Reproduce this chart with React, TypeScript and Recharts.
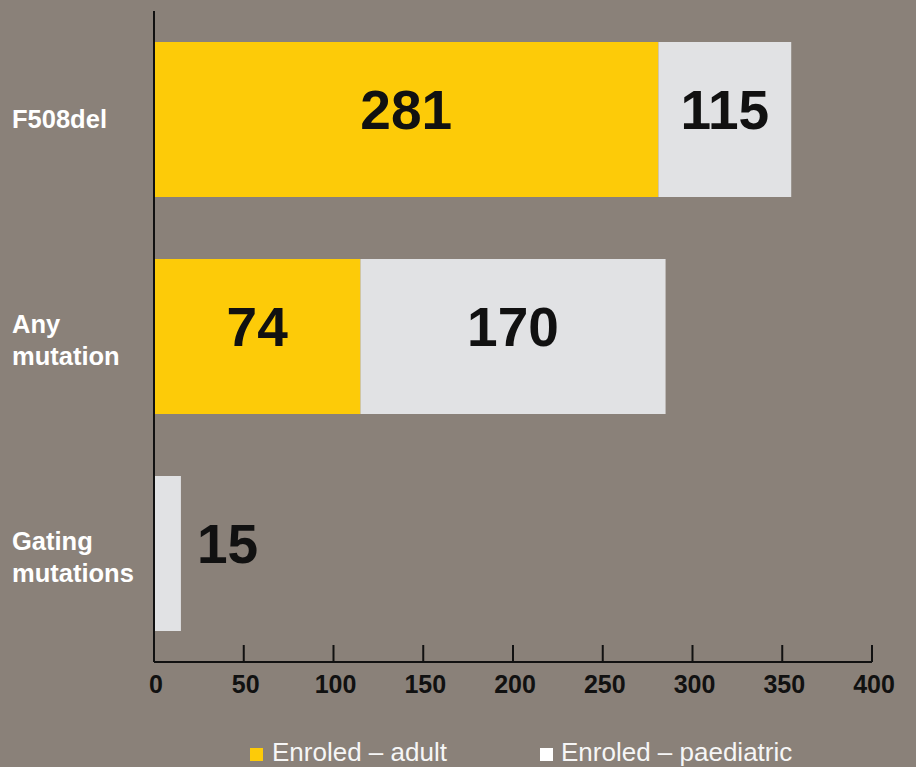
import { Bar, BarChart, LabelList, XAxis, YAxis } from "recharts";

const categories = ["F508del", "Any mutation", "Gating mutations"];
const adultValues = [281, 115, 0];
const paediatricValues = [74, 170, 15];
const adultLabels = ["281", "74", ""];
const paediatricLabels = ["115", "170", "15"];
const xTicks = [0, 50, 100, 150, 200, 250, 300, 350, 400];

const data = categories.map((category, i) => ({
  category,
  adult: adultValues[i],
  paediatric: paediatricValues[i],
  adultLabel: adultLabels[i],
  paediatricLabel: paediatricLabels[i],
}));

const FONT = '"Liberation Sans", Arial, Helvetica, sans-serif';
const BG = "#8a8179";
const YELLOW = "#fdcb08";
const GREY = "#e1e2e4";

function XTick(props: any) {
  const { x, y, payload } = props;
  return (
    <g>
      <line x1={x} x2={x} y1={y - 17} y2={y} stroke="#111" strokeWidth={2} />
      <text
        x={x + 2}
        y={y + 31}
        textAnchor="middle"
        fontFamily={FONT}
        fontWeight={700}
        fontSize={25}
        fill="#111"
      >
        {payload.value}
      </text>
    </g>
  );
}

function YTick(props: any) {
  const { y, payload } = props;
  const lines = String(payload.value).split(" ");
  const first = lines.length > 1 ? y - 4 : y + 8.5;
  return (
    <text x={12} y={first} fontFamily={FONT} fontWeight={700} fontSize={25.5} fill="#fff">
      {lines.map((line, i) => (
        <tspan key={line} x={12} y={first + i * 32}>
          {line}
        </tspan>
      ))}
    </text>
  );
}

function ValueLabel(props: any) {
  const { x, y, width, height, value } = props;
  if (!value) return null;
  const outside = width < 60;
  return (
    <text
      x={outside ? x + width + 16 : x + width / 2}
      y={y + height / 2 + 9}
      textAnchor={outside ? "start" : "middle"}
      fontFamily={FONT}
      fontWeight={700}
      fontSize={55}
      fill="#111"
    >
      {value}
    </text>
  );
}

export default function App() {
  return (
    <div
      style={{
        position: "absolute",
        top: 0,
        left: 0,
        width: 916,
        height: 767,
        background: BG,
        overflow: "hidden",
      }}
    >
      <BarChart
        width={916}
        height={767}
        data={data}
        layout="vertical"
        margin={{ top: 11, right: 44, bottom: 0, left: 0 }}
      >
        <XAxis
          type="number"
          domain={[0, 400]}
          ticks={xTicks}
          height={105}
          axisLine={{ stroke: "#111", strokeWidth: 2 }}
          tickLine={false}
          tickSize={0}
          tickMargin={0}
          tick={<XTick />}
          interval={0}
        />
        <YAxis
          type="category"
          dataKey="category"
          width={154}
          axisLine={{ stroke: "#111", strokeWidth: 2 }}
          tickLine={false}
          tickSize={0}
          tick={<YTick />}
        />
        <Bar dataKey="adult" stackId="a" fill={YELLOW} barSize={155} isAnimationActive={false}>
          <LabelList dataKey="adultLabel" content={<ValueLabel />} />
        </Bar>
        <Bar dataKey="paediatric" stackId="a" fill={GREY} barSize={155} isAnimationActive={false}>
          <LabelList dataKey="paediatricLabel" content={<ValueLabel />} />
        </Bar>
      </BarChart>
      <div
        style={{
          position: "absolute",
          top: 737,
          left: 250,
          display: "flex",
          alignItems: "baseline",
          fontFamily: FONT,
          fontSize: 26,
          color: "#f6f6f6",
          lineHeight: "30px",
        }}
      >
        <span style={{ display: "inline-block", width: 13, height: 13, background: YELLOW, marginRight: 9 }} />
        <span style={{ width: 268 }}>Enroled – adult</span>
        <span style={{ display: "inline-block", width: 13, height: 13, background: "#fff", marginRight: 8 }} />
        <span>Enroled – paediatric</span>
      </div>
    </div>
  );
}
